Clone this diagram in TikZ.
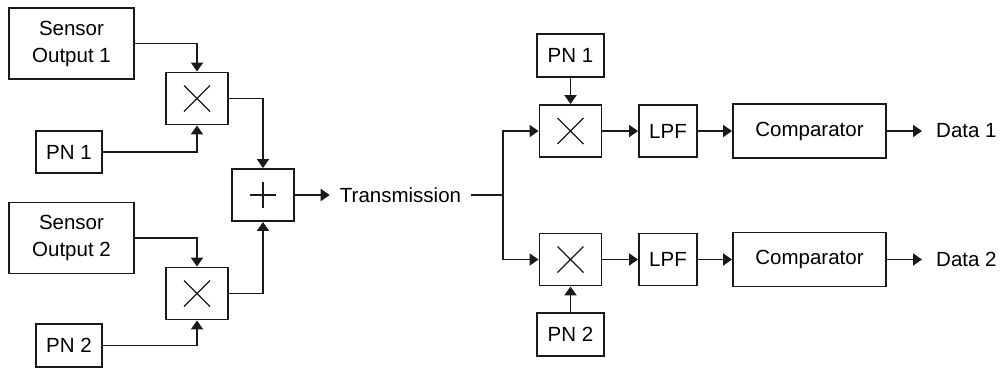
\documentclass[tikz,border=0pt]{standalone}
\usepackage{fontspec}
\setmainfont{Liberation Sans}
\usepackage{tikz}
\usetikzlibrary{arrows.meta,positioning,calc}
\definecolor{inkgray}{HTML}{1A1A1A}
\tikzset{
  blockbox/.style={
    rectangle, draw=inkgray, line width=1.9pt, fill=white,
    minimum width=#1, inner sep=0pt, align=center,
    font=\fontsize{20.5}{27}\selectfont
  },
  blockbox/.default=66pt,
  mixbox/.style={
    blockbox=62pt, minimum height=52pt,
    path picture={
      \draw[line width=1.1pt, inkgray]
        ([shift={(-13pt,-13pt)}]path picture bounding box.center) -- ++(26pt,26pt)
        ([shift={(-13pt,13pt)}]path picture bounding box.center) -- ++(26pt,-26pt);
    }
  },
  sumbox/.style={
    blockbox=62pt, minimum height=52pt,
    path picture={
      \draw[line width=1.3pt, inkgray]
        ([xshift=-13pt]path picture bounding box.center) -- ++(26pt,0pt)
        ([yshift=-13pt]path picture bounding box.center) -- ++(0pt,26pt);
    }
  },
  labeltext/.style={inner sep=0pt, font=\fontsize{20.5}{27}\selectfont},
  sigarrow/.style={
    -{Triangle[length=9pt, width=12pt]}, line width=1.9pt, color=inkgray
  },
  sigline/.style={line width=1.9pt, color=inkgray},
}
\begin{document}
\begin{tikzpicture}[x=1pt, y=-1pt]
  \useasboundingbox (0,0) rectangle (1001,368);
  % transmitter side
  \node[blockbox=125pt, minimum height=71pt] (sens1) at (71.5,43.5) {Sensor\\Output 1};
  \node[blockbox=125pt, minimum height=71pt] (sens2) at (71.5,238) {Sensor\\Output 2};
  \node[blockbox, minimum height=42pt] (pnA) at (69,152) {PN 1};
  \node[blockbox, minimum height=43pt] (pnB) at (69,345.5) {PN 2};
  \node[mixbox] (mix1) at (197,98.5) {};
  \node[mixbox] (mix2) at (197,293.5) {};
  \node[sumbox] (adder) at (263,195) {};
  \node[labeltext] (tx) at (400.5,195) {Transmission};
  \draw[sigarrow] (sens1.east) -| (mix1.north);
  \draw[sigarrow] (pnA.east) -| (mix1.south);
  \draw[sigarrow] (sens2.east) -| (mix2.north);
  \draw[sigarrow] (pnB.east) -| (mix2.south);
  \draw[sigarrow] (mix1.east) -| (adder.north);
  \draw[sigarrow] (mix2.east) -| (adder.south);
  \draw[sigarrow, shorten >=10pt] (adder.east) -- (tx.west);
  % receiver side
  \coordinate (split) at (503,195);
  \node[blockbox=67pt, minimum height=43pt] (pnC) at (570.5,55.5) {PN 1};
  \node[blockbox=67pt, minimum height=43pt] (pnD) at (570.5,334.5) {PN 2};
  \node[mixbox] (mix3) at (570.5,131) {};
  \node[mixbox] (mix4) at (570.5,259.5) {};
  \node[blockbox=58pt, minimum height=52pt] (lpf1) at (668,131) {LPF};
  \node[blockbox=58pt, minimum height=52pt] (lpf2) at (668,259.5) {LPF};
  \node[blockbox=153pt, minimum height=54pt] (cmp1) at (809.5,131) {Comparator};
  \node[blockbox=153pt, minimum height=54pt] (cmp2) at (809.5,259.5) {Comparator};
  \node[labeltext, anchor=west] (out1) at (936,131) {Data 1};
  \node[labeltext, anchor=west] (out2) at (936,259.5) {Data 2};
  \draw[sigline, shorten <=10pt] (tx.east) -- (split);
  \draw[sigarrow] (split) |- (mix3.west);
  \draw[sigarrow] (split) |- (mix4.west);
  \draw[sigarrow] (pnC.south) -- (mix3.north);
  \draw[sigarrow] (pnD.north) -- (mix4.south);
  \draw[sigarrow] (mix3.east) -- (lpf1.west);
  \draw[sigarrow] (mix4.east) -- (lpf2.west);
  \draw[sigarrow] (lpf1.east) -- (cmp1.west);
  \draw[sigarrow] (lpf2.east) -- (cmp2.west);
  \draw[sigarrow, shorten >=14pt] (cmp1.east) -- (out1.west);
  \draw[sigarrow, shorten >=14pt] (cmp2.east) -- (out2.west);
\end{tikzpicture}
\end{document}
